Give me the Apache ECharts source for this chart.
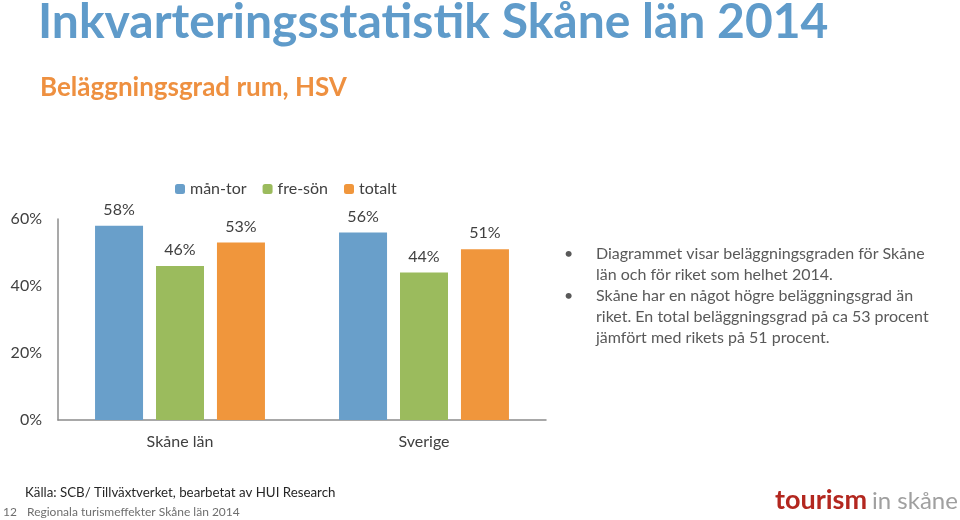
<!DOCTYPE html>
<html><head><meta charset="utf-8">
<script src="https://cdn.jsdelivr.net/npm/echarts@6/dist/echarts.min.js"></script>
<style>html,body{margin:0;padding:0;background:#fff}#c{width:960px;height:520px}</style>
</head><body><div id="c"></div>
<script>
const categories = ['Skåne län', 'Sverige'];
const seriesNames = ['mån-tor', 'fre-sön', 'totalt'];
const manTor = [58, 56];
const freSon = [46, 44];
const totalt = [53, 51];
const yTicks = [0, 20, 40, 60];
const bullets = [
  ['Diagrammet visar beläggningsgraden för Skåne', 'län och för riket som helhet 2014.'],
  ['Skåne har en något högre beläggningsgrad än', 'riket. En total beläggningsgrad på ca 53 procent', 'jämfört med rikets på 51 procent.']
];
const colors = ['#699fca', '#9bbb5d', '#f0963c'];
const font = 'Lato, "Open Sans", sans-serif';

const chart = echarts.init(document.getElementById('c'), null, {renderer: 'canvas'});
const bulletGraphics = [];
let line = 0;
bullets.forEach(b => {
  bulletGraphics.push({type: 'text', left: 564, top: 246 + line * 21, style: {text: '•', font: '16px ' + font, fill: '#595959'}});
  b.forEach(t => {
    bulletGraphics.push({type: 'text', left: 596, top: 246 + line * 21, style: {text: t, font: '16px ' + font, fill: '#595959'}});
    line++;
  });
});

const mk = (name, data, i) => ({
  name, type: 'bar', data, barWidth: 48, barGap: '27%',
  itemStyle: {color: colors[i]},
  label: {show: true, position: 'top', distance: 8, formatter: '{c}%', color: '#404040', fontSize: 16, fontFamily: font},
  emphasis: {disabled: true}
});

chart.setOption({
  animation: false,
  textStyle: {fontFamily: font},
  legend: {
    top: 176, left: 170, itemWidth: 10, itemHeight: 10, itemGap: 16,
    textStyle: {color: '#404040', fontSize: 16, fontFamily: font},
    data: seriesNames
  },
  grid: {left: 58, right: 414, top: 219, bottom: 100},
  xAxis: {
    type: 'category', data: categories,
    axisLine: {lineStyle: {color: '#8c8c8c', width: 1.5}},
    axisTick: {show: false},
    axisLabel: {color: '#404040', fontSize: 16, margin: 14, fontFamily: font}
  },
  yAxis: {
    type: 'value', min: 0, max: 60, interval: 20,
    axisLine: {show: true, lineStyle: {color: '#8c8c8c', width: 1.5}},
    axisTick: {show: false},
    splitLine: {show: false},
    axisLabel: {color: '#404040', fontSize: 16, margin: 16, formatter: v => yTicks.includes(v) ? v + '%' : '', fontFamily: font}
  },
  series: [mk(seriesNames[0], manTor, 0), mk(seriesNames[1], freSon, 1), mk(seriesNames[2], totalt, 2)],
  graphic: [
    {type: 'text', left: 38, top: -1, style: {text: 'Inkvarteringsstatistik Skåne län 2014', font: 'bold 48px ' + font, fill: '#5f9bca'}},
    {type: 'text', left: 40, top: 75, style: {text: 'Beläggningsgrad rum, HSV', font: 'bold 26px ' + font, fill: '#ee9040'}},
    ...bulletGraphics,
    {type: 'text', left: 25, top: 486, style: {text: 'Källa: SCB/ Tillväxtverket, bearbetat av HUI Research', font: '13.3px ' + font, fill: '#262626'}},
    {type: 'text', left: 3, top: 506, style: {text: '12', font: '12px ' + font, fill: '#6e6e6e'}},
    {type: 'text', left: 27, top: 506, style: {text: 'Regionala turismeffekter Skåne län 2014', font: '12px ' + font, fill: '#6e6e6e'}},
    {type: 'text', left: 775, top: 487, style: {text: 'tourism', font: 'bold 27px ' + font, fill: '#b3271f'}},
    {type: 'text', left: 872, top: 489, style: {text: 'in skåne', font: '24px ' + font, fill: '#a0a0a0'}}
  ]
});
</script></body></html>
